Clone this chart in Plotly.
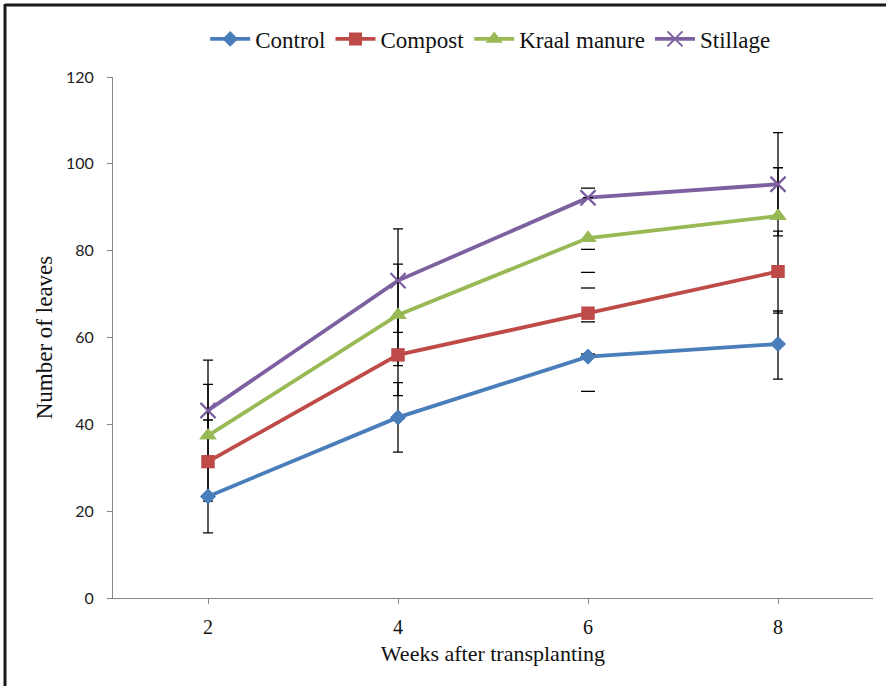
import plotly.graph_objects as go

weeks = [2, 4, 6, 8]
series_names = ["Control", "Compost", "Kraal manure", "Stillage"]
control = [23.4, 41.6, 55.6, 58.5]
compost = [31.4, 56.0, 65.6, 75.2]
kraal = [37.4, 65.2, 82.9, 88.0]
stillage = [43.2, 73.1, 92.2, 95.3]

control_err_plus = [8.0, 8.0, 8.0, 7.6]
control_err_minus = [8.4, 8.0, 8.0, 8.1]
compost_err_plus = [9.6, 9.4, 9.4, 9.3]
compost_err_minus = [9.1, 9.4, 9.4, 9.6]
kraal_err_plus = [11.8, 11.7, 11.5, 11.1]
kraal_err_minus = [0.0, 11.7, 11.5, 0.0]
stillage_err_plus = [11.6, 11.9, 0.0, 11.9]
stillage_err_minus = [11.6, 11.9, 11.9, 11.9]

# at week 6 the reference shows only the caps of the error bars, no stems
stem_shown = [True, True, False, True]

x_ticks = [2, 4, 6, 8]
y_ticks = [0, 20, 40, 60, 80, 100, 120]

SERIF = "Times New Roman"

colors = ["#4A7EBB", "#BE4B48", "#98B954", "#7D60A0"]
symbols = ["diamond", "square", "triangle-up", "x-thin-open"]
sizes = [12, 13, 15, 15]

values = [control, compost, kraal, stillage]
eplus = [control_err_plus, compost_err_plus, kraal_err_plus, stillage_err_plus]
eminus = [control_err_minus, compost_err_minus, kraal_err_minus, stillage_err_minus]

fig = go.Figure()

for name, vals, col, sym, sz in zip(series_names, values, colors, symbols, sizes):
    marker = dict(symbol=sym, size=sz, color=col)
    if sym == "x-thin-open":
        marker["line"] = dict(color=col, width=2)
    fig.add_trace(go.Scatter(
        x=weeks, y=vals, name=name, mode="lines+markers",
        line=dict(color=col, width=3.8),
        marker=marker,
    ))

# error bars drawn over the lines (stems), then the caps-only week
for vals, ps, ms in zip(values, eplus, eminus):
    arr_p = [p if s else None for p, s in zip(ps, stem_shown)]
    arr_m = [m if s else None for m, s in zip(ms, stem_shown)]
    fig.add_trace(go.Scatter(
        x=weeks, y=vals, mode="markers", showlegend=False, hoverinfo="skip",
        marker=dict(size=1, opacity=0),
        error_y=dict(type="data", symmetric=False, array=arr_p, arrayminus=arr_m,
                     color="black", thickness=1.3, width=5),
    ))

cap_x, cap_y = [], []
for vals, ps, ms in zip(values, eplus, eminus):
    for i, w in enumerate(weeks):
        if not stem_shown[i]:
            if ps[i] > 0:
                cap_x.append(w); cap_y.append(vals[i] + ps[i])
            if ms[i] > 0:
                cap_x.append(w); cap_y.append(vals[i] - ms[i])
fig.add_trace(go.Scatter(
    x=cap_x, y=cap_y, mode="markers", showlegend=False, hoverinfo="skip",
    marker=dict(symbol="line-ew", size=10, line=dict(color="black", width=1.3)),
))

# markers on top again so they cover the error bar stems
for vals, col, sym, sz in zip(values, colors, symbols, sizes):
    marker = dict(symbol=sym, size=sz, color=col)
    if sym == "x-thin-open":
        marker["line"] = dict(color=col, width=2)
    fig.add_trace(go.Scatter(
        x=weeks, y=vals, mode="markers", showlegend=False, hoverinfo="skip",
        marker=marker,
    ))

fig.update_layout(
    width=886, height=686,
    margin=dict(l=113, r=13, t=77, b=88),
    paper_bgcolor="white", plot_bgcolor="white",
    font=dict(family=SERIF),
    showlegend=True,
    legend=dict(orientation="h", x=0.497, xanchor="center", y=1.073, yanchor="middle",
                font=dict(family=SERIF, size=23, color="#111"),
                itemwidth=40, tracegroupgap=0, bgcolor="rgba(0,0,0,0)"),
    xaxis=dict(range=[1, 9], tickvals=x_ticks, ticktext=[str(t) for t in x_ticks],
               showgrid=False, zeroline=False, showline=True, linecolor="#868686",
               linewidth=1, ticks="outside", ticklen=5, tickcolor="#868686",
               tickfont=dict(family=SERIF, size=20, color="#111"),
               ticklabelstandoff=6,
               title=dict(text="Weeks after transplanting", standoff=8,
                          font=dict(family=SERIF, size=22, color="#111"))),
    yaxis=dict(range=[0, 120], tickvals=y_ticks, ticktext=[str(t) for t in y_ticks],
               showgrid=False, zeroline=False, showline=True, linecolor="#868686",
               linewidth=1, ticks="outside", ticklen=5, tickcolor="#868686",
               tickfont=dict(family="Lato", size=16, color="#222"),
               ticklabelstandoff=10,
               title=dict(text="Number of leaves", standoff=6,
                          font=dict(family=SERIF, size=23, color="#111"))),
    shapes=[
        dict(type="line", xref="paper", yref="paper", x0=-0.1421, x1=1.03,
             y0=1.138, y1=1.138, line=dict(color="#1a1a1a", width=3)),
        dict(type="line", xref="paper", yref="paper", x0=-0.1421, x1=-0.1421,
             y0=1.14, y1=-0.18, line=dict(color="#1a1a1a", width=3)),
    ],
)

fig.write_html("out.html")
